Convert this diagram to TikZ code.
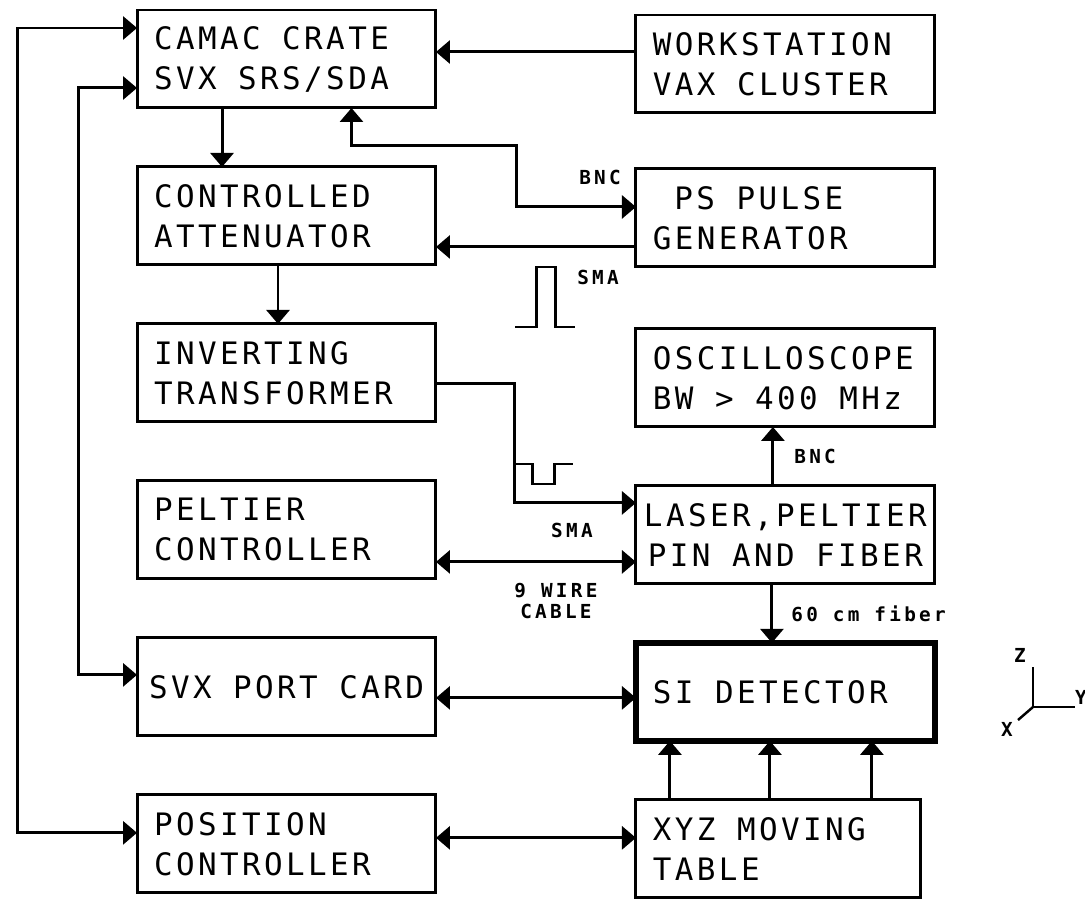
\documentclass[tikz,border=0pt]{standalone}
\usepackage{fontspec}
\newfontfamily\plotfont[LetterSpace=11]{DejaVu Sans Mono}
\newfontfamily\tagfont[LetterSpace=17]{DejaVu Sans Mono}
\DeclareRobustCommand\boxtext{\plotfont\fontsize{17.6pt}{22.8pt}\selectfont}
\DeclareRobustCommand\tagtext{\tagfont\bfseries\fontsize{11pt}{12pt}\selectfont}
% one empty cell of the monospaced grid
\newcommand\wgap{\hbox to 0.43cm{}}
\newcommand\tgap{\hbox to 0.3cm{}}
\usetikzlibrary{positioning, arrows.meta}

\begin{document}
\begin{tikzpicture}[
    x=0.02cm, y=-0.02cm,
    font=\boxtext,
    line width=1.7pt,
    box/.style={
        rectangle,
        draw,
        line width=1.7pt,
        outer sep=0pt,
        align=left,
        text width=5.3cm,
        inner xsep=0.34cm,
        minimum width=5.98cm,
        minimum height=1.96cm
    },
    fullbox/.style={
        box,
        align=center,
        text width=5.9cm,
        inner xsep=0.04cm
    },
    tag/.style={font=\tagtext, align=center, inner sep=0pt},
    arrow/.style={-{Triangle[length=0.28cm, width=0.46cm]}},
    dblarrow/.style={{Triangle[length=0.28cm, width=0.46cm]}-{Triangle[length=0.28cm, width=0.46cm]}}
]
\useasboundingbox (0,0) rectangle (1085,901);

% Left column
\node[box] (camac) at (286.5,59) {CAMAC\wgap CRATE\\SVX\wgap SRS/SDA};
\node[box, below=1.18cm of camac] (atten) {CONTROLLED\\ATTENUATOR};
\node[box, below=1.18cm of atten] (invert) {INVERTING\\TRANSFORMER};
\node[box, below=1.18cm of invert] (peltctl) {PELTIER\\CONTROLLER};
\node[fullbox, below=1.18cm of peltctl] (svxport) {SVX\wgap PORT\wgap CARD};
\node[box, below=1.18cm of svxport] (posctl) {POSITION\\CONTROLLER};

% Right column
\node[box, right=4cm of camac, yshift=-0.1cm] (wkst) {WORKSTATION\\VAX\wgap CLUSTER};
\node[box, below=1.12cm of wkst] (pulser) {\wgap PS\wgap PULSE\\GENERATOR};
\node[box, below=1.24cm of pulser] (scope) {OSCILLOSCOPE\\BW\wgap >\wgap 400\wgap MHz};
\node[fullbox, below=1.18cm of scope] (laser) {LASER,PELTIER\\PIN\wgap AND\wgap FIBER};
\node[box, below=1.18cm of laser, line width=3.6pt] (sidet) {SI\wgap DETECTOR};
\node[box, below=1.18cm of sidet.south west, anchor=north west,
    text width=5.02cm, minimum width=5.7cm] (xyz) {XYZ\wgap MOVING\\TABLE};

% Helper points
\coordinate (wsout) at ([yshift=0.24cm]wkst.west);
\coordinate (psout) at ([yshift=-0.58cm]pulser.west);
\coordinate (psin) at ([yshift=0.22cm]pulser.west);
\coordinate (lasin) at ([yshift=0.64cm]laser.west);
\coordinate (peltout) at ([yshift=-0.64cm]peltctl.east);
\coordinate (svxout) at ([yshift=-0.22cm]svxport.east);
\coordinate (posout) at ([yshift=0.12cm]posctl.east);

% Bus lines on the left
\draw[dblarrow] ([yshift=-0.36cm]camac.north west) -- ++(-120,0) |- ([yshift=0.22cm]posctl.west);
\draw[dblarrow] ([yshift=-0.58cm]camac.west) -- ++(-59,0) |- ([yshift=0.24cm]svxport.west);

% Control and pulse chain
\draw[arrow] (wsout) -- (wsout -| camac.east);
\draw[arrow] ([xshift=-1.29cm]camac.south) -- ([xshift=-1.29cm]atten.north);
\draw[dblarrow] ([xshift=1.3cm]camac.south) -- ++(0,38) -- ++(165,0) |- (psin);
\draw[arrow] (psout) -- (psout -| atten.east);
\draw[arrow] ([xshift=-0.17cm]atten.south) -- ([xshift=-0.17cm]invert.north);
\draw[arrow] ([yshift=-0.22cm]invert.east) -| ([xshift=-2.42cm]lasin) -- (lasin);
\draw[arrow] ([xshift=-0.25cm]laser.north) -- node[tag, right=0.4cm] {BNC} ([xshift=-0.25cm]scope.south);
\draw[dblarrow] (peltout) -- node[tag, pos=0.68, above=0.46cm] {SMA}
    node[tag, pos=0.6, below=0.4cm] {9\tgap WIRE\\CABLE} (peltout -| laser.west);
\draw[arrow] ([xshift=-0.27cm]laser.south) -- node[tag, right=0.36cm] {60\tgap cm\tgap fiber} ([xshift=-0.27cm]sidet.north);
\draw[dblarrow] (svxout) -- (svxout -| sidet.west);
\draw[dblarrow] (posout) -- (posout -| xyz.west);
\foreach \dx in {-2.31, -0.31, 1.73}
    \draw[arrow] ([xshift=\dx cm, yshift=-1.18cm]sidet.south) -- ([xshift=\dx cm]sidet.south);

% Pulse shapes and labels
\node[tag] (bnctop) at (600,177) {BNC};
\node[tag] (smatop) at (598,277) {SMA};
\draw (515,327) -- (536,327) -- (536,267) -- (555,267) -- (555,327) -- (575,327);
\draw (515,464) -- (532,464) -- (532,484) -- (554,484) -- (554,464) -- (573,464);

% Axes
\coordinate (orig) at (1033,707);
\draw[line width=1.4pt] (orig) ++(0,-40) -- (orig) -- ++(42,0);
\draw[line width=1.4pt] (orig) -- ++(-15,13);
\node[tag] (zlab) at (1020,655) {Z};
\node[tag] (ylab) at (1081,697) {Y};
\node[tag] (xlab) at (1007,729) {X};

\end{tikzpicture}
\end{document}
